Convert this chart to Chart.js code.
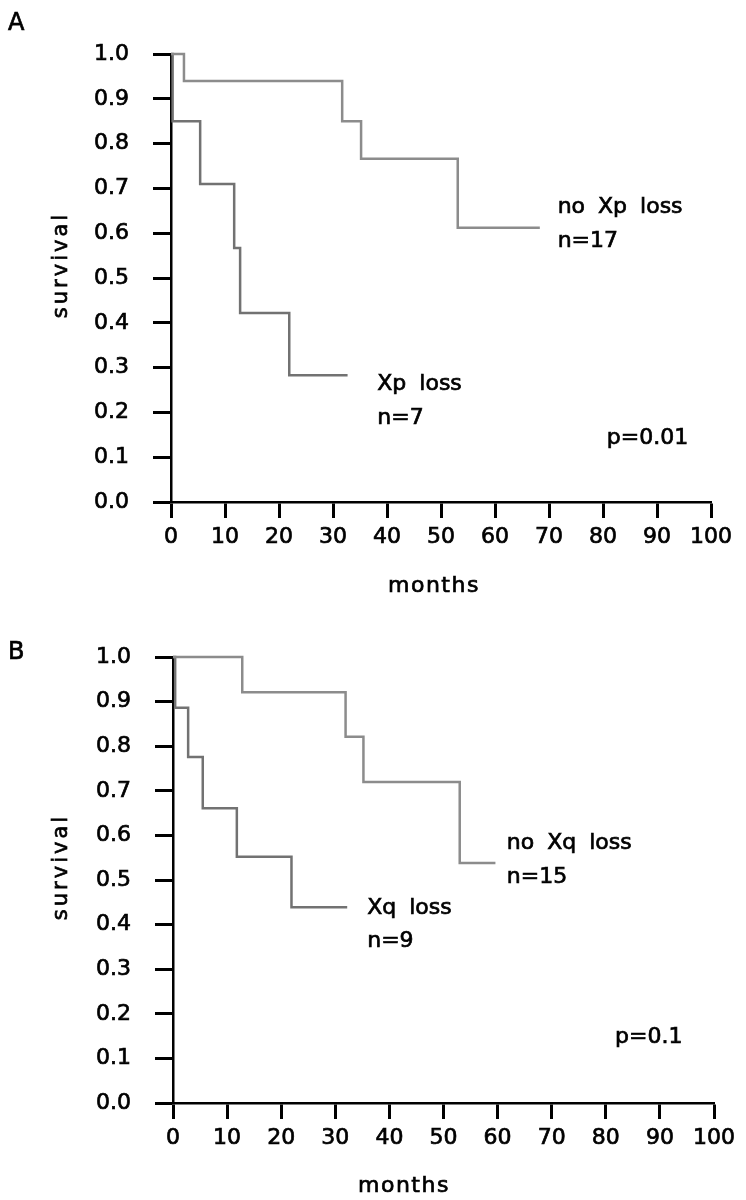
<!DOCTYPE html>
<html>
<head>
<meta charset="utf-8">
<script src="https://cdn.jsdelivr.net/npm/chart.js@4.4.1/dist/chart.umd.min.js"></script>
<style>
  html, body { margin: 0; padding: 0; background: #fff; }
  .panel { position: absolute; left: 0; width: 746px; height: 600px; }
  #panelA { top: 0; }
  #panelB { top: 600px; }
</style>
</head>
<body>
<div class="panel" id="panelA"><canvas id="chartA" width="746" height="600"></canvas></div>
<div class="panel" id="panelB"><canvas id="chartB" width="746" height="600"></canvas></div>
<script>
// Panel A: Xp
const noXpMonths = [0, 2.4, 31.7, 35.2, 53.1, 68.3];
const noXpSurv   = [1.0, 0.94, 0.85, 0.766, 0.612, 0.612];
const xpMonths   = [0, 0.3, 5.4, 11.7, 12.8, 21.9, 32.7];
const xpSurv     = [1.0, 0.85, 0.71, 0.567, 0.422, 0.283, 0.283];

// Panel B: Xq
const noXqMonths = [0, 12.8, 31.9, 35.2, 53.0, 59.6];
const noXqSurv   = [1.0, 0.921, 0.821, 0.72, 0.538, 0.538];
const xqMonths   = [0, 0.4, 2.8, 5.5, 11.8, 21.9, 32.2];
const xqSurv     = [1.0, 0.886, 0.776, 0.661, 0.552, 0.439, 0.439];

const monthTicks = [0, 10, 20, 30, 40, 50, 60, 70, 80, 90, 100];
const survTicks  = [0, 0.1, 0.2, 0.3, 0.4, 0.5, 0.6, 0.7, 0.8, 0.9, 1.0];

const FONT = '"DejaVu Sans", sans-serif';

function toPoints(xs, ys) {
  return xs.map((x, i) => ({ x: x, y: ys[i] }));
}

// fill + thin stroke so the text is as heavy as the scan
function heavyText(ctx, text, x, y) {
  ctx.fillText(text, x, y);
  ctx.strokeText(text, x, y);
}

// draws panel letter, axis titles and curve labels
const panelText = {
  id: 'panelText',
  afterDraw(chart, args, opts) {
    const { ctx, scales } = chart;
    const area = chart.chartArea;
    ctx.save();
    ctx.fillStyle = '#000';
    ctx.strokeStyle = '#000';
    ctx.lineWidth = 0.7;
    ctx.textAlign = 'left';
    ctx.textBaseline = 'alphabetic';

    ctx.font = '24px ' + FONT;
    heavyText(ctx, opts.letter, 8, opts.letterY);

    // x title
    ctx.font = '22px ' + FONT;
    ctx.letterSpacing = '1.5px';
    heavyText(ctx, 'months', opts.monthsX, 592);

    // y title
    ctx.save();
    ctx.letterSpacing = '3px';
    ctx.font = '21px ' + FONT;
    ctx.translate(67, (area.top + area.bottom) / 2 - 13);
    ctx.rotate(-Math.PI / 2);
    ctx.textAlign = 'center';
    heavyText(ctx, 'survival', 0, 0);
    ctx.restore();

    ctx.letterSpacing = '0px';
    ctx.wordSpacing = '6px';
    ctx.font = '22px ' + FONT;
    opts.labels.forEach(l => {
      heavyText(ctx, l.text, scales.x.getPixelForValue(l.x), scales.y.getPixelForValue(l.y));
    });
    ctx.restore();
  }
};

function makeChart(id, cfg) {
  return new Chart(document.getElementById(id), {
    type: 'scatter',
    data: {
      datasets: [
        {
          label: cfg.names[0],
          data: toPoints(cfg.series[0][0], cfg.series[0][1]),
          borderColor: '#8c8c8c',
          borderWidth: 2.5,
          showLine: true,
          stepped: true,
          pointRadius: 0,
          clip: false
        },
        {
          label: cfg.names[1],
          data: toPoints(cfg.series[1][0], cfg.series[1][1]),
          borderColor: '#727272',
          borderWidth: 2.5,
          showLine: true,
          stepped: true,
          pointRadius: 0,
          clip: false
        }
      ]
    },
    options: {
      responsive: false,
      animation: false,
      layout: { padding: { top: cfg.top, right: cfg.right, left: 0, bottom: 0 } },
      plugins: {
        legend: { display: false },
        tooltip: { enabled: false },
        panelText: { letter: cfg.letter, letterY: cfg.letterY, monthsX: cfg.monthsX, labels: cfg.labels }
      },
      scales: {
        x: {
          type: 'linear',
          min: 0,
          max: 100,
          afterFit: s => { s.height = cfg.xHeight; },
          afterBuildTicks: s => { s.ticks = monthTicks.map(v => ({ value: v })); },
          ticks: {
            color: '#000', font: { family: FONT, size: 22 }, padding: 6, maxRotation: 0,
            textStrokeColor: '#000', textStrokeWidth: 0.7
          },
          grid: { drawOnChartArea: false, drawTicks: true, tickLength: 16, tickWidth: 3, tickColor: '#000' },
          border: { color: '#000', width: 2.5 }
        },
        y: {
          min: 0,
          max: 1,
          afterFit: s => { s.width = cfg.yWidth; },
          afterBuildTicks: s => { s.ticks = survTicks.map(v => ({ value: v })); },
          ticks: {
            color: '#000', font: { family: FONT, size: 22 }, padding: 24,
            textStrokeColor: '#000', textStrokeWidth: 0.7,
            callback: v => v.toFixed(1)
          },
          grid: { drawOnChartArea: false, drawTicks: true, tickLength: 18, tickWidth: 3, tickColor: '#000' },
          border: { color: '#000', width: 2.5 }
        }
      }
    },
    plugins: [panelText]
  });
}

makeChart('chartA', {
  names: ['no Xp loss', 'Xp loss'],
  series: [[noXpMonths, noXpSurv], [xpMonths, xpSurv]],
  top: 54, right: 35, xHeight: 98, yWidth: 171,
  letter: 'A', letterY: 30, monthsX: 388,
  labels: [
    { text: 'no Xp loss', x: 71.6, y: 0.645 },
    { text: 'n=17', x: 71.6, y: 0.569 },
    { text: 'Xp loss', x: 38.2, y: 0.25 },
    { text: 'n=7', x: 38.2, y: 0.174 },
    { text: 'p=0.01', x: 80.7, y: 0.129 }
  ]
});

makeChart('chartB', {
  names: ['no Xq loss', 'Xq loss'],
  series: [[noXqMonths, noXqSurv], [xqMonths, xqSurv]],
  top: 57, right: 32, xHeight: 97, yWidth: 173,
  letter: 'B', letterY: 59, monthsX: 358,
  labels: [
    { text: 'no Xq loss', x: 61.7, y: 0.569 },
    { text: 'n=15', x: 61.7, y: 0.493 },
    { text: 'Xq loss', x: 35.9, y: 0.424 },
    { text: 'n=9', x: 35.9, y: 0.35 },
    { text: 'p=0.1', x: 81.7, y: 0.135 }
  ]
});
</script>
</body>
</html>
